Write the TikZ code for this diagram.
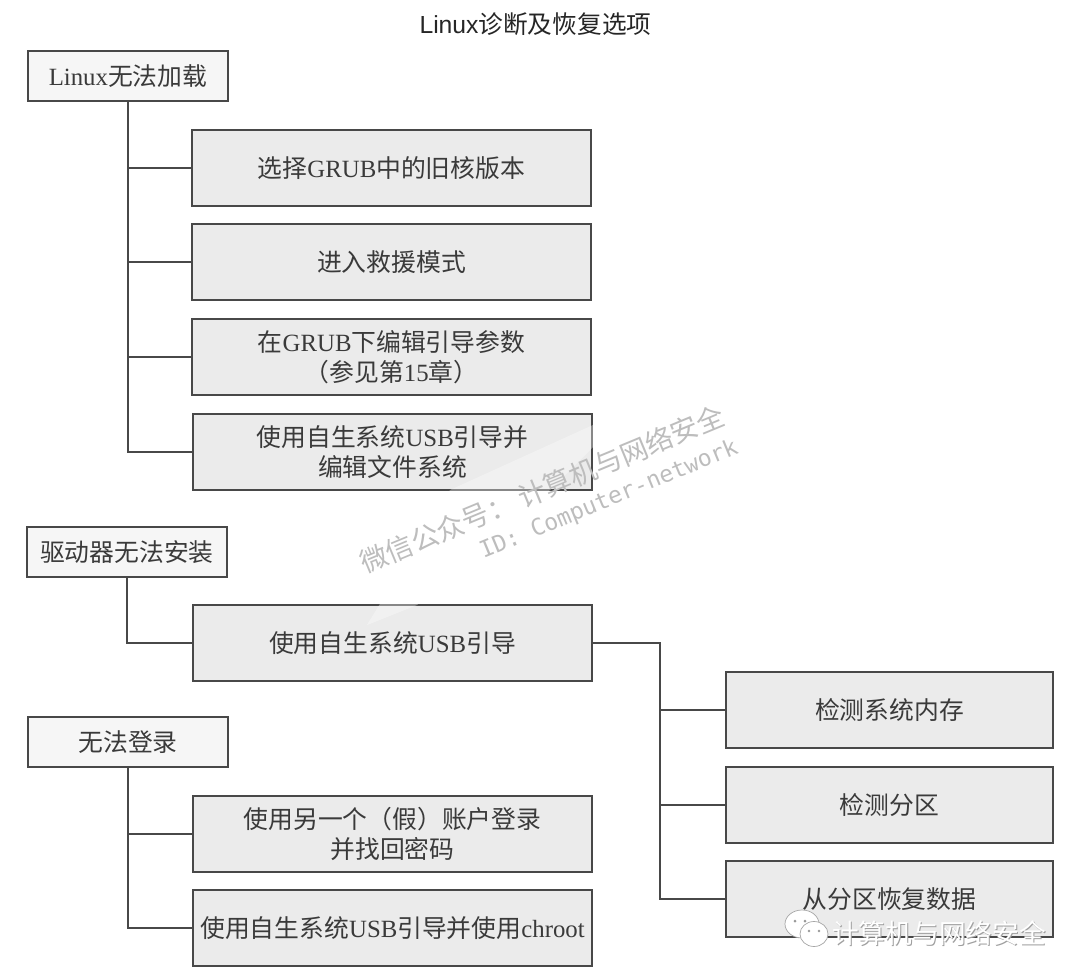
\documentclass[tikz,border=0pt]{standalone}
\usepackage{fontspec}
\setmainfont{Noto Sans CJK SC}
\newfontfamily\serifl{Liberation Serif}
\newfontfamily\sansl{Liberation Sans}
\newfontfamily\monol{DejaVu Sans Mono}
\newcommand\lat[1]{{\serifl #1}}
\definecolor{ink}{HTML}{3A3A3A}
\definecolor{edge}{HTML}{484848}
\definecolor{boxg}{HTML}{EBEBEB}
\definecolor{boxl}{HTML}{F6F6F6}
\definecolor{wm}{HTML}{BDBDBD}
\tikzset{
  x=1pt,y=-1pt,
  base/.style={draw=edge,line width=2pt,text=ink,align=center,inner sep=0pt,outer sep=0pt,
    font=\fontsize{24.8}{30}\selectfont},
  headbox/.style={base,fill=boxl,minimum width=200pt,minimum height=50pt},
  itembox/.style={base,fill=boxg,minimum width=399pt,minimum height=76pt},
  sidebox/.style={base,fill=boxg,minimum width=327pt,minimum height=76pt},
  conn/.style={draw=edge,line width=2pt},
  wmark/.style={text=wm,rotate=22.5,inner sep=0pt},
}
\begin{document}
\begin{tikzpicture}
\useasboundingbox (0,0) rectangle (1080,980);
\fill[white] (0,0) rectangle (1080,980);

\node[inner sep=0pt,text=black!85,font=\fontsize{24.7}{28}\selectfont] (title) at (535.5,24) {{\sansl Linux}诊断及恢复选项};

% left column
\node[headbox] (h1) at (128,76) {\raisebox{2pt}{\lat{Linux}无法加载}};
\node[itembox] (a1) at (391.5,168) {选择\lat{GRUB}中的旧核版本};
\node[itembox] (a2) at (391.5,262) {进入救援模式};
\node[itembox] (a3) at (391.5,357) {在\lat{GRUB}下编辑引导参数\\（参见第\lat{15}章）};
\node[itembox] (a4) at (392.5,452) {\raisebox{2pt}{使用自生系统\lat{USB}引导并}\\\raisebox{2pt}{编辑文件系统}};

\node[headbox] (h2) at (127,552) {驱动器无法安装};
\node[itembox] (b1) at (392.5,643) {使用自生系统\lat{USB}引导};

\node[headbox] (h3) at (128,742) {无法登录};
\node[itembox] (c1) at (392.5,834) {使用另一个（假）账户登录\\并找回密码};
\node[itembox] (c2) at (392.5,928) {使用自生系统\lat{USB}引导并使用\lat{chroot}};

% right column
\node[sidebox] (r1) at (889.5,710) {检测系统内存};
\node[sidebox] (r2) at (889.5,805) {检测分区};
\node[sidebox] (r3) at (889.5,899) {从分区恢复数据};

% connectors
\draw[conn] (h1.south) |- (a1.west);
\draw[conn] (h1.south) |- (a2.west);
\draw[conn] (h1.south) |- (a3.west);
\draw[conn] (h1.south) |- (a4.west);
\draw[conn] (h2.south) |- (b1.west);
\draw[conn] (h3.south) |- (c1.west);
\draw[conn] (h3.south) |- (c2.west);
\coordinate (fork) at (660,643);
\draw[conn] (b1.east) -- (fork) |- (r1.west);
\draw[conn] (fork) |- (r2.west);
\draw[conn] (fork) |- (r3.west);

% diagonal watermark
\fill[white,opacity=.35] (367,625) -- (417,605) -- (550,490) -- (593,447) -- (593,425) -- (450,490) -- cycle;
\node[wmark,font=\fontsize{27.5}{30}\selectfont] (wm1) at (542,489) {微信公众号： 计算机与网络安全};
\node[wmark,font=\monol\fontsize{23}{26}\selectfont] (wm2) at (609,500) {ID: Computer-network};

% bottom-right account mark
\begin{scope}[draw=gray!70,line width=.7pt,fill=white]
  \filldraw (802,924) ellipse [x radius=17,y radius=14];
  \filldraw (814,934) ellipse [x radius=14,y radius=12.5];
  \fill[gray!80] (795,921) circle (1.5) (805,921) circle (1.5) (809,931) circle (1.4) (819,931) circle (1.4);
\end{scope}
\node[inner sep=0pt,text=gray!75,font=\fontsize{26.7}{30}\selectfont] at (940,934) {计算机与网络安全};
\node[inner sep=0pt,text=white,font=\fontsize{26.7}{30}\selectfont] (wm3) at (939,933) {计算机与网络安全};
\end{tikzpicture}
\end{document}
